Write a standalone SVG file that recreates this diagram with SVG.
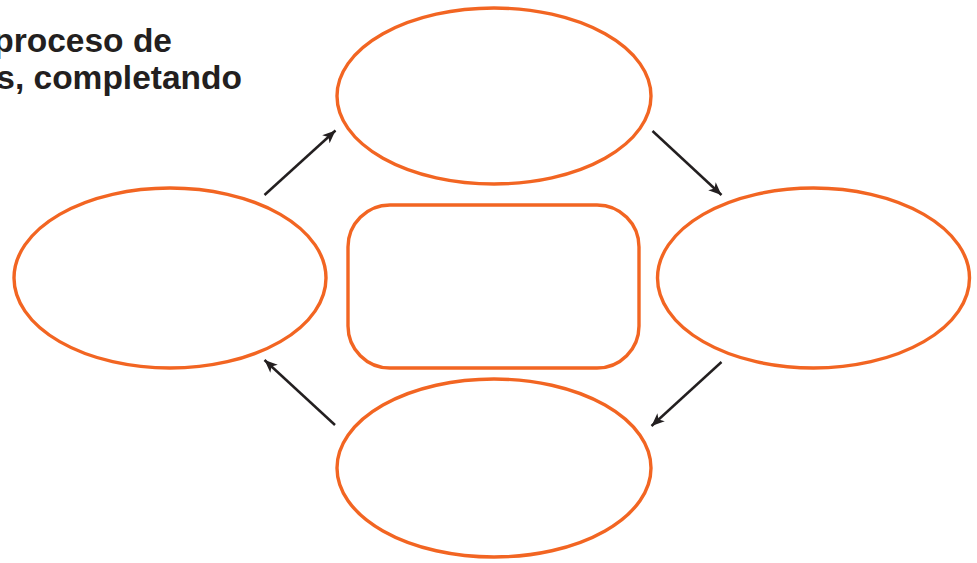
<svg xmlns="http://www.w3.org/2000/svg" width="977" height="563" viewBox="0 0 977 563">
  <style>
    .shape { fill: #ffffff; stroke: #F26522; stroke-width: 3.4; }
    .title { font-family: "Liberation Sans", Arial, sans-serif; font-weight: bold; font-size: 33.5px; fill: #231F20; }
    .arrow { stroke: #231F20; stroke-width: 2.5; fill: none; marker-end: url(#head); }
  </style>
  <defs>
    <marker id="head" markerUnits="userSpaceOnUse" markerWidth="14" markerHeight="12" refX="13" refY="6" orient="auto">
      <path d="M0,0.5 L13,6 L0,11.5 L3.5,6 Z" fill="#231F20"/>
    </marker>
  </defs>

  <!-- heading, clipped by the left edge -->
  <text class="title" x="172" y="52" text-anchor="end">proceso de</text>
  <text class="title" x="242" y="89" text-anchor="end">s, completando</text>

  <!-- cycle connectors -->
  <g id="connectors">
    <line class="arrow" x1="264.5" y1="195" x2="335.5" y2="130.5"/>
    <line class="arrow" x1="652.5" y1="131" x2="721.5" y2="195"/>
    <line class="arrow" x1="721.5" y1="362" x2="651.5" y2="426"/>
    <line class="arrow" x1="335" y1="425" x2="264.5" y2="360"/>
  </g>

  <g id="node-top">
    <ellipse class="shape" cx="494" cy="96" rx="157" ry="88"/>
  </g>
  <g id="node-right">
    <ellipse class="shape" cx="813.5" cy="278" rx="156" ry="90"/>
  </g>
  <g id="node-bottom">
    <ellipse class="shape" cx="494" cy="468" rx="157" ry="89"/>
  </g>
  <g id="node-left">
    <ellipse class="shape" cx="170" cy="278" rx="156" ry="90"/>
  </g>
  <g id="node-center">
    <rect class="shape" x="348" y="205" width="291" height="163" rx="42" ry="42"/>
  </g>
</svg>
